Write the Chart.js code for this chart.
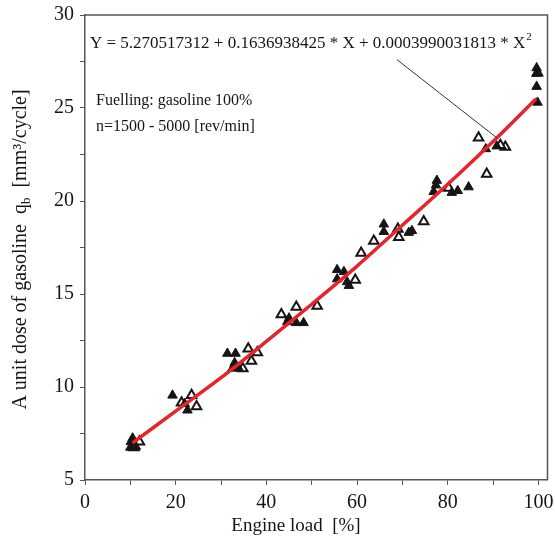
<!DOCTYPE html>
<html>
<head>
<meta charset="utf-8">
<script src="https://cdn.jsdelivr.net/npm/chart.js@4.4.1/dist/chart.umd.min.js"></script>
<style>
  body { margin: 0; background: #fff; }
  #wrap { width: 555px; height: 540px; }
</style>
</head>
<body>
<div id="wrap"><canvas id="chart"></canvas></div>
<script>
// measured points, filled triangles
const loadClosed = [10.1, 10.5, 10.0, 11.2, 19.3, 22.0, 22.6, 31.4, 33.2, 33.0, 32.5, 33.8,
  45.0, 44.6, 46.6, 48.2, 55.6, 57.1, 55.6, 58.2, 57.8, 65.9, 65.9, 71.4, 72.1,
  77.6, 77.4, 76.9, 80.9, 82.2, 84.6, 88.4, 90.8, 99.6, 99.6, 99.6, 99.8];
const doseClosed = [7.05, 7.25, 6.75, 6.8, 9.55, 9.1, 8.75, 11.8, 11.8, 11.3, 11.0, 11.05,
  13.7, 13.5, 13.45, 13.45, 16.3, 16.2, 15.8, 15.45, 15.65, 18.75, 18.35, 18.3, 18.4,
  21.1, 20.85, 20.5, 20.45, 20.55, 20.75, 22.8, 22.95, 27.15, 26.85, 26.15, 25.3];

// open triangles
const loadOpen = [12.0, 10.8, 23.5, 24.6, 21.3, 36.0, 38.0, 34.8, 36.7, 43.3, 46.6, 51.2,
  59.6, 60.9, 63.7, 69.0, 69.2, 74.7, 80.2, 86.8, 88.6, 92.7, 91.6, 99.8];
const doseOpen = [7.05, 6.75, 9.55, 8.95, 9.15, 12.05, 11.85, 11.0, 11.4, 13.9, 14.3, 14.35,
  15.75, 17.2, 17.85, 18.5, 18.05, 18.9, 20.7, 23.4, 21.45, 22.9, 23.0, 26.9];

// red fitted curve
const fitLoad = [10.5, 20, 30, 40, 50, 60, 70, 80, 90, 99.5];
const fitDose = [7.0, 8.7, 10.5, 12.45, 14.45, 16.5, 18.7, 20.9, 23.2, 25.5];

const xTicks = [0, 10, 20, 30, 40, 50, 60, 70, 80, 90, 100];

const equation = 'Y = 5.270517312 + 0.1636938425 * X + 0.0003990031813 * X';
const note1 = 'Fuelling: gasoline 100%';
const note2 = 'n=1500 - 5000 [rev/min]';
const xTitle = 'Engine load  [%]';
// leader line from equation to curve, in data units
const leaderFrom = [68.8, 27.6];
const leaderTo = [90.8, 23.4];

const serif = '"Liberation Serif", "DejaVu Serif", serif';
const ink = '#151515';

const toPts = (xs, ys) => xs.map((x, i) => ({ x: x, y: ys[i] }));

const extras = {
  id: 'extras',
  afterDraw(chart) {
    const ctx = chart.ctx;
    const a = chart.chartArea;
    const sx = chart.scales.x, sy = chart.scales.y;
    ctx.save();
    // frame top + right
    ctx.strokeStyle = '#555';
    ctx.lineWidth = 1.5;
    ctx.beginPath();
    ctx.moveTo(a.left, a.top);
    ctx.lineTo(a.right, a.top);
    ctx.lineTo(a.right, a.bottom);
    ctx.stroke();

    // leader line
    ctx.strokeStyle = '#333';
    ctx.lineWidth = 1;
    ctx.beginPath();
    ctx.moveTo(sx.getPixelForValue(leaderFrom[0]), sy.getPixelForValue(leaderFrom[1]));
    ctx.lineTo(sx.getPixelForValue(leaderTo[0]), sy.getPixelForValue(leaderTo[1]));
    ctx.stroke();

    ctx.fillStyle = ink;
    ctx.textBaseline = 'alphabetic';
    ctx.textAlign = 'left';
    // equation, squeezed to fit the frame
    ctx.font = '17px ' + serif;
    const wEq = ctx.measureText(equation).width;
    ctx.font = '11px ' + serif;
    const wSup = ctx.measureText('2').width;
    const avail = 448;
    const k = Math.min(1, avail / (wEq + wSup + 1));
    ctx.save();
    ctx.translate(a.left + 5, 48);
    ctx.scale(k, 1);
    ctx.font = '17px ' + serif;
    ctx.fillText(equation, 0, 0);
    ctx.font = '11px ' + serif;
    ctx.fillText('2', wEq + 1, -8);
    ctx.restore();

    ctx.font = '16px ' + serif;
    ctx.fillText(note1, a.left + 11, 105);
    ctx.fillText(note2, a.left + 11, 131);

    // x title (sits a bit left of centre in the original)
    ctx.font = '19px ' + serif;
    ctx.textAlign = 'center';
    ctx.fillText(xTitle, 296, 531);
    ctx.textAlign = 'left';

    // y title with subscript
    const t1 = 'A unit dose of gasoline  q';
    const t2 = 'b';
    const t3 = '  [mm\u00b3/cycle]';
    ctx.font = '20px ' + serif;
    const w1 = ctx.measureText(t1).width;
    const w3 = ctx.measureText(t3).width;
    ctx.font = '13px ' + serif;
    const w2 = ctx.measureText(t2).width;
    const total = w1 + w2 + w3;
    ctx.translate(26, (a.top + a.bottom) / 2 + 2);
    ctx.rotate(-Math.PI / 2);
    let x0 = -total / 2;
    ctx.font = '20px ' + serif;
    ctx.fillText(t1, x0, 0);
    ctx.font = '13px ' + serif;
    ctx.fillText(t2, x0 + w1, 4);
    ctx.font = '20px ' + serif;
    ctx.fillText(t3, x0 + w1 + w2, 0);
    ctx.restore();
  }
};

new Chart(document.getElementById('chart'), {
  type: 'scatter',
  data: {
    datasets: [
      {
        type: 'line',
        data: toPts(fitLoad, fitDose),
        borderColor: '#e8242b',
        borderWidth: 3.5,
        pointRadius: 0,
        tension: 0.3,
        fill: false,
        order: 0
      },
      {
        data: toPts(loadOpen, doseOpen),
        pointStyle: 'triangle',
        pointRadius: 5.5,
        backgroundColor: '#fff',
        borderColor: ink,
        borderWidth: 2,
        order: 2
      },
      {
        data: toPts(loadClosed, doseClosed),
        pointStyle: 'triangle',
        pointRadius: 5.5,
        backgroundColor: ink,
        borderColor: ink,
        borderWidth: 1,
        order: 1
      }
    ]
  },
  options: {
    responsive: true,
    maintainAspectRatio: false,
    animation: false,
    layout: { padding: { top: 15, right: 7, left: 0, bottom: 0 } },
    plugins: { legend: { display: false }, tooltip: { enabled: false } },
    scales: {
      x: {
        type: 'linear',
        min: 0,
        max: 102,
        afterBuildTicks: (s) => { s.ticks = xTicks.map(v => ({ value: v })); },
        afterFit: (s) => { s.height = 60; s.paddingLeft = 0; s.paddingRight = 0; },
        ticks: {
          autoSkip: false,
          maxRotation: 0,
          padding: 6,
          color: ink,
          font: { family: serif, size: 20 },
          callback: (v) => (v % 20 === 0 ? v : '')
        },
        grid: { drawOnChartArea: false, tickLength: 5, color: '#555', lineWidth: 1 },
        border: { color: '#555', width: 1.5 }
      },
      y: {
        min: 5,
        max: 30,
        afterFit: (s) => { s.width = 85; s.paddingTop = 0; s.paddingBottom = 0; },
        ticks: {
          stepSize: 2.5,
          padding: 6,
          color: ink,
          font: { family: serif, size: 20 },
          callback: (v) => (v % 5 === 0 ? v : '')
        },
        grid: { drawOnChartArea: false, tickLength: 5, color: '#555', lineWidth: 1 },
        border: { color: '#555', width: 1.5 }
      }
    }
  },
  plugins: [extras]
});
</script>
</body>
</html>
